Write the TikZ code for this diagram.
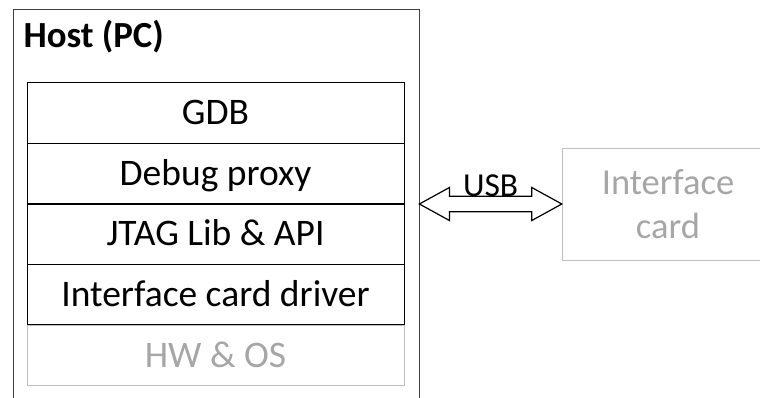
\documentclass[tikz,border=0pt]{standalone}
\usepackage{fontspec}
\setmainfont{Carlito}
\usetikzlibrary{positioning,calc}

\definecolor{hostgrey}{HTML}{404040}
\definecolor{lineGrey}{HTML}{BFBFBF}
\definecolor{textGrey}{HTML}{A6A6A6}

\begin{document}
\begin{tikzpicture}[
    x=1pt, y=-1pt,
    bigfont/.style={font=\fontsize{37.5}{44}\selectfont},
    layer/.style={draw, bigfont, minimum width=377pt, minimum height=60.2pt,
      inner sep=0pt, text height=24pt, text depth=0pt},
    faded/.style={draw=lineGrey, text=textGrey},
    hostbox/.style={draw=hostgrey, minimum width=406pt, minimum height=440pt, inner sep=0pt},
    usbarrow/.style={draw, line width=1.2pt, line join=miter},
]

  % Rahmen
  \useasboundingbox (0,0) rectangle (760,397);
  \clip (0,0) rectangle (760,397);

  % Host
  \node[hostbox, anchor=north west] (host) at (13,9) {};
  \node[anchor=base west, font=\fontsize{36.8}{42}\selectfont\bfseries] (hostlabel) at (20,47) {Host (PC)};

  % Schichten, von unten nach oben
  \node[layer, faded] (hwos) at (215.5,355) {HW \& OS};
  \node[layer, above=0pt of hwos]    (driver) {Interface card driver};
  \node[layer, above=0pt of driver]  (jtag)   {JTAG Lib \& API};
  \node[layer, above=0pt of jtag]    (proxy)  {Debug proxy};
  \node[layer, above=0pt of proxy]   (gdb)    {GDB};

  % Interface card
  \node[font=\fontsize{36.5}{44}\selectfont, faded, align=center, minimum width=212pt,
    minimum height=112pt, inner sep=0pt] (card) at (668,204) {Interface\\card};

  % USB Pfeil
  \def\headlen{30}
  \def\headw{16.5}
  \def\shaftw{7.8}
  \coordinate (usbL) at (host.east |- card.west);
  \draw[usbarrow]
    (usbL) -- ($(usbL)+(\headlen,-\headw)$) -- ($(usbL)+(\headlen,-\shaftw)$)
    -- ($(card.west)+(-\headlen,-\shaftw)$) -- ($(card.west)+(-\headlen,-\headw)$)
    -- (card.west)
    -- ($(card.west)+(-\headlen,\headw)$) -- ($(card.west)+(-\headlen,\shaftw)$)
    -- ($(usbL)+(\headlen,\shaftw)$) -- ($(usbL)+(\headlen,\headw)$) -- cycle;
  \path (usbL) -- (card.west)
    node[midway, anchor=base, yshift=7.5pt, font=\fontsize{33.5}{40}\selectfont] (usb) {USB};

\end{tikzpicture}
\end{document}
